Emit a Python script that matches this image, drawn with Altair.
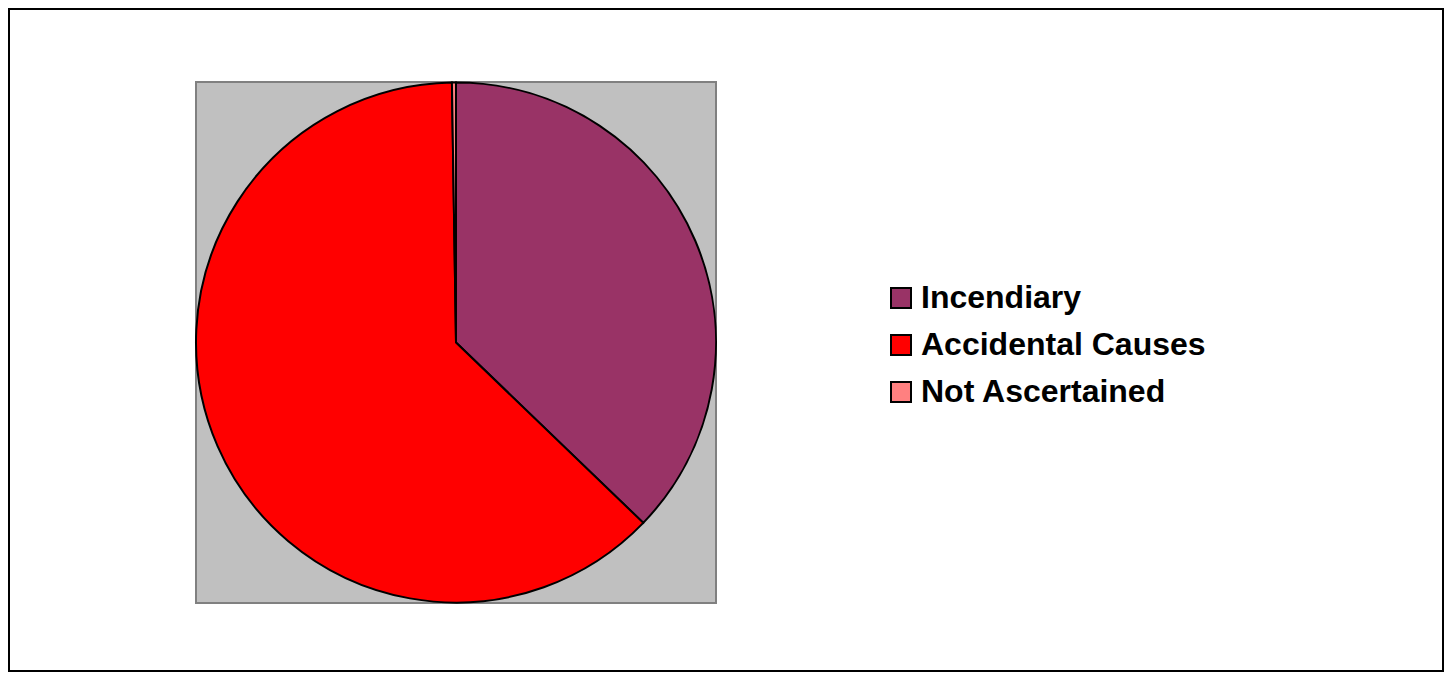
import altair as alt
import pandas as pd

causes = ["Incendiary", "Accidental Causes", "Not Ascertained"]
shares = [37.2, 62.55, 0.25]
colors = ["#993366", "#FF0000", "#FF8080"]

df = pd.DataFrame({"cause": causes, "share": shares, "order": [0, 1, 2]})

pie = alt.Chart(df).mark_arc(stroke="black", strokeWidth=2, radius=260).encode(
    theta=alt.Theta("share:Q", stack=True),
    order=alt.Order("order:Q"),
    color=alt.Color(
        "cause:N",
        scale=alt.Scale(domain=causes, range=colors),
        sort=causes,
        legend=alt.Legend(
            title=None,
            orient="none",
            legendX=689,
            legendY=200,
            symbolType="square",
            symbolSize=400,
            symbolStrokeColor="black",
            symbolStrokeWidth=2,
            labelFont="Liberation Sans",
            labelFontWeight="bold",
            labelFontSize=32,
            labelColor="black",
            labelOffset=4,
            rowPadding=15,
            padding=0,
            labelLimit=500,
        ),
    ),
    x=alt.value(260),
    y=alt.value(260.5),
)

frame = alt.Chart(pd.DataFrame({"a": [0]})).mark_rect(
    fill="transparent", stroke="black", strokeWidth=2, clip=False
).encode(
    x=alt.value(-187),
    x2=alt.value(1247),
    y=alt.value(-73),
    y2=alt.value(589),
)

chart = alt.layer(pie, frame).properties(
    width=520,
    height=521,
    padding={"left": 188, "top": 74, "right": 728, "bottom": 69},
    autosize=alt.AutoSizeParams(type="none"),
    background="white",
).configure_view(fill="#C0C0C0", stroke="#808080", strokeWidth=2)

chart.save("out.html", embed_options={"renderer": "svg", "actions": False})
